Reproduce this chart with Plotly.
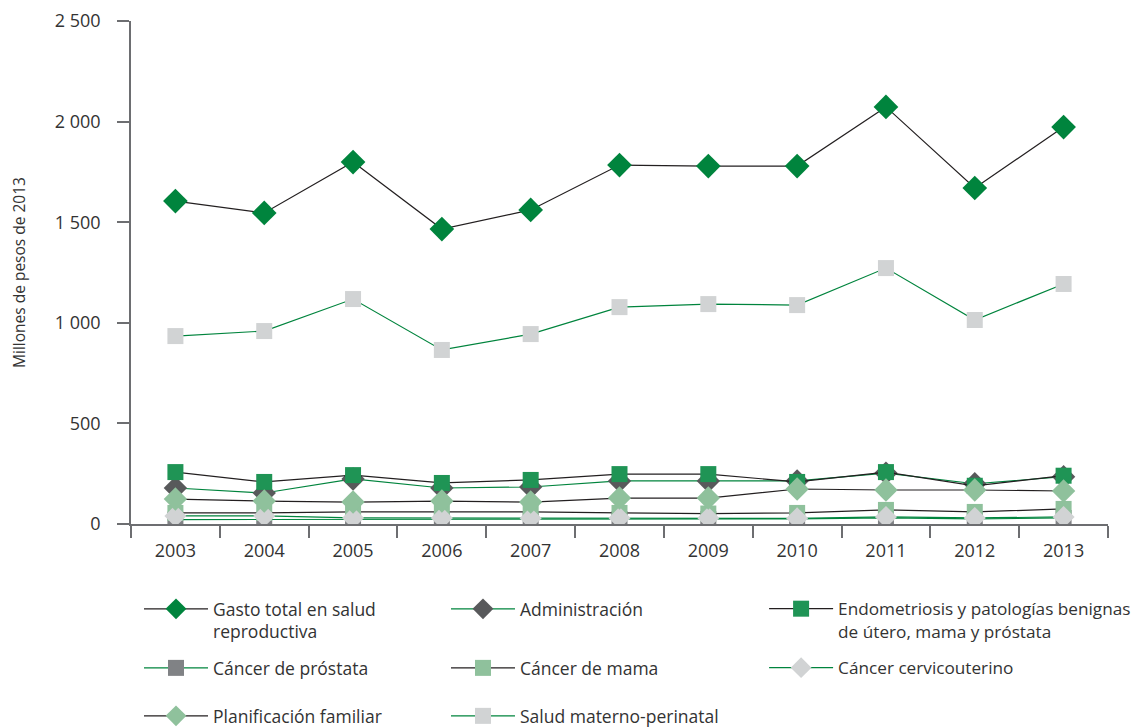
import plotly.graph_objects as go

years = ["2003", "2004", "2005", "2006", "2007", "2008", "2009", "2010", "2011", "2012", "2013"]

gasto_total = [1605, 1546, 1799, 1466, 1561, 1784, 1779, 1779, 2073, 1670, 1973]
administracion = [179, 154, 224, 179, 184, 214, 214, 214, 253, 200, 235]
endometriosis = [258, 209, 243, 204, 219, 248, 248, 209, 258, 190, 240]
cancer_prostata = [22, 22, 25, 25, 22, 25, 25, 25, 30, 25, 30]
cancer_mama = [55, 55, 60, 60, 60, 55, 52, 55, 70, 60, 75]
cancer_cervico = [40, 40, 30, 30, 28, 30, 30, 28, 35, 30, 35]
planificacion = [124, 114, 109, 114, 109, 129, 129, 174, 169, 169, 164]
materno = [934, 959, 1118, 865, 944, 1078, 1093, 1088, 1272, 1014, 1193]

names = [
    "Gasto total en salud<br>reproductiva",
    "Administración",
    "Endometriosis y patologías benignas&nbsp;&nbsp;<br>de útero, mama y próstata",
    "Cáncer de próstata",
    "Cáncer de mama",
    "Cáncer cervicouterino",
    "Planificación familiar",
    "Salud materno-perinatal",
]

BLACK = "#231f20"
GREEN = "#00843d"
series = [
    (gasto_total, "diamond", 19, "#00843d", BLACK),
    (administracion, "diamond", 18, "#58595b", GREEN),
    (endometriosis, "square", 16, "#1f9455", BLACK),
    (cancer_prostata, "square", 16, "#808285", GREEN),
    (cancer_mama, "square", 16, "#8fc19c", BLACK),
    (cancer_cervico, "diamond", 17, "#d1d3d4", GREEN),
    (planificacion, "diamond", 18, "#8fc19c", BLACK),
    (materno, "square", 16, "#d1d3d4", GREEN),
]

# legend slot (column, row) for each series, 3-column grid as in the original
col_x = [0.0082, 0.3224, 0.648]
row_y = [-0.1332, -0.2505, -0.3459]
slots = [(0, 0), (1, 0), (2, 0), (0, 1), (1, 1), (2, 1), (0, 2), (1, 2)]

axis_col = "#6d6e71"
TXT = "#333333"

fig = go.Figure()
legend_layouts = {}
for i, ((vals, sym, size, mcol, lcol), name) in enumerate(zip(series, names)):
    key = "legend" if i == 0 else f"legend{i + 1}"
    fig.add_trace(go.Scatter(
        x=years, y=vals, name=name, mode="lines+markers",
        line=dict(color=lcol, width=1.2),
        marker=dict(symbol=sym, size=size, color=mcol, line=dict(width=0)),
        legend=key,
    ))
    c, r = slots[i]
    legend_layouts[key] = dict(
        x=col_x[c], y=row_y[r], xanchor="left", yanchor="top",
        orientation="v", valign="top", itemwidth=64,
        font=dict(size=17.5 if c < 2 else 17.2, color=TXT, family="Open Sans"),
        bgcolor="rgba(0,0,0,0)",
    )

fig.update_layout(
    width=1132, height=720,
    margin=dict(l=123, r=32, t=13, b=204, autoexpand=False),
    paper_bgcolor="white", plot_bgcolor="white",
    font=dict(family="Open Sans", size=17, color=TXT),
    separators=". ",
    showlegend=True,
    xaxis=dict(
        type="category", range=[-0.5, 10.5], showgrid=False,
        showline=True, linecolor=axis_col, linewidth=1.5,
        ticks="outside", tickson="boundaries", ticklen=12, tickcolor=axis_col, tickwidth=1.5,
        ticklabelstandoff=10,
        tickfont=dict(size=18, color=TXT),
    ),
    yaxis=dict(
        range=[0, 2500], tickvals=[0, 500, 1000, 1500, 2000, 2500], tickformat=",",
        showgrid=False, zeroline=False,
        showline=True, linecolor=axis_col, linewidth=1.5,
        ticks="outside", ticklen=12, tickcolor=axis_col, tickwidth=1.5,
        ticklabelstandoff=13,
        tickfont=dict(size=18, color=TXT),
        title=dict(text="Millones de pesos de 2013", font=dict(size=15.5, color=TXT), standoff=26),
    ),
    **legend_layouts,
)

fig.write_html("out.html")
